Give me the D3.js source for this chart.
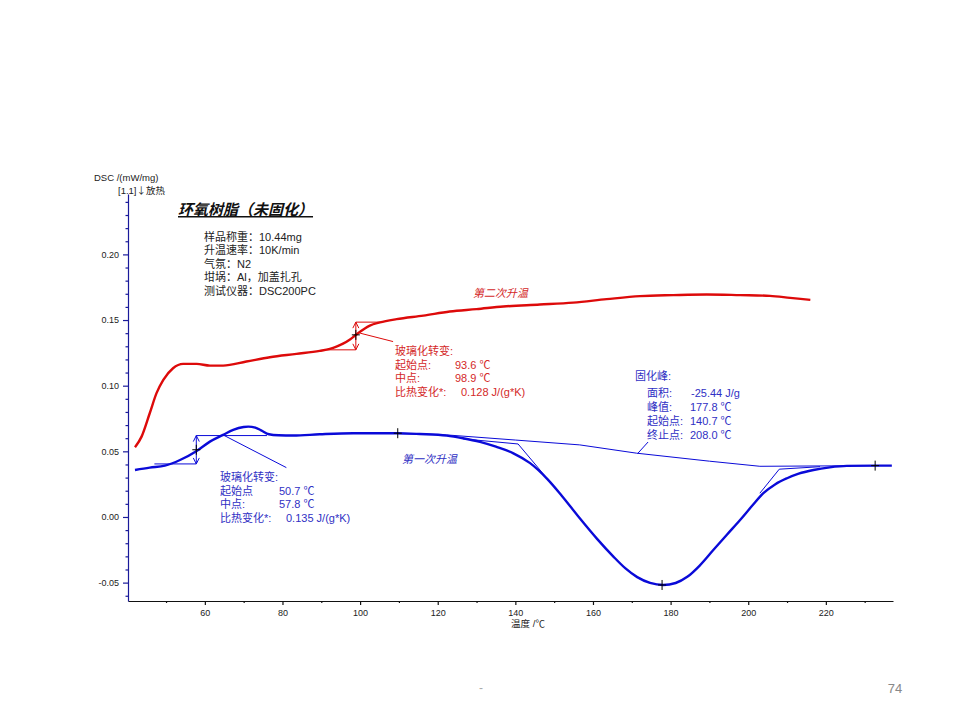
<!DOCTYPE html>
<html><head><meta charset="utf-8">
<script src="https://cdn.jsdelivr.net/npm/d3@7"></script>
<style>
body{margin:0;background:#fff}
svg{display:block}
text{font-family:"Liberation Sans","Noto Sans CJK SC",sans-serif}
</style>
</head><body>
<svg id="c" width="960" height="720"></svg>
<script>
// ---------------- data ----------------
const tempRed = [42.0,43.7,45.8,47.55,49.3,51.8,54.4,57.9,61.3,64.7,70.7,76.75,83.6,89.6,92.2,93.9,95.6,97.4,99.1,102.5,105.1,109.4,116.3,123.1,130,136.9,146.3,154.9,163.5,172.1,180.7,189.3,197.9,205.6,210.8,216];
const dscRed  = [0.0531,0.0612,0.079,0.0943,0.1044,0.1133,0.1166,0.1166,0.1153,0.1153,0.1184,0.1217,0.1242,0.1265,0.1280,0.1297,0.1320,0.1352,0.1392,0.1458,0.1482,0.1507,0.1534,0.1565,0.1583,0.1603,0.1618,0.1633,0.1659,0.1682,0.1690,0.1695,0.1690,0.1684,0.1669,0.1654];

const tempBlue = [42.0,45.8,49.7,53.6,57.9,61.3,64.7,67.3,70.0,71.2,73.0,74.5,76.5,79,82.8,89.6,98.2,109.4,115.4,122.3,126.5,130.9,135,139.5,143.8,148.2,152,156.6,161,165.2,168.3,171.4,174.7,178.1,181.3,184.3,187.5,191,194.5,197.9,201,203.9,207,210,213,216.8,221,225.4,232.7,237];
const dscBlue  = [0.0358,0.0376,0.0391,0.0434,0.0503,0.0574,0.0625,0.0663,0.0685,0.0688,0.0680,0.0660,0.0630,0.0622,0.0620,0.0630,0.0638,0.0638,0.0632,0.0620,0.0600,0.0572,0.0535,0.0485,0.0410,0.0290,0.0160,-0.0010,-0.0165,-0.0300,-0.0390,-0.0458,-0.0502,-0.0518,-0.0503,-0.0456,-0.0370,-0.0252,-0.0135,-0.0023,0.0085,0.0181,0.0250,0.0295,0.0330,0.0358,0.0378,0.0389,0.0391,0.0391];

const xTicks = [60,80,100,120,140,160,180,200,220];
const xTickLabels = ["60","80","100","120","140","160","180","200","220"];
const xMinor = [50,70,90,110,130,150,170,190,210,230];
const yTicks = [-0.05,0,0.05,0.10,0.15,0.20];
const yTickLabels = ["-0.05","0.00","0.05","0.10","0.15","0.20"];
const yMinor = [-0.06,-0.04,-0.03,-0.02,-0.01,0.01,0.02,0.03,0.04,0.06,0.07,0.08,0.09,0.11,0.12,0.13,0.14,0.16,0.17,0.18,0.19,0.21,0.22,0.23,0.24];

// analysis constructions (temperature, DSC)
const redGlassLow  = [[90.9,0.1273],[98.9,0.1273]];
const redGlassHigh = [[98.9,0.1484],[105.1,0.1484]];
const redGlassMid  = [98.9,0.1387];
const redLeader    = [[100,0.1400],[108.5,0.1336]];

const blueGlassLow  = [[47,0.0404],[57.8,0.0404]];
const blueGlassHigh = [[57.8,0.0620],[76,0.0620]];
const blueGlassMid  = [57.8,0.0512];
const blueLeader    = [[64.7,0.0625],[81,0.0376]];

const peakBaseline = [[109.7,0.0638],[122.3,0.0625],[140,0.0586],[156.6,0.0549],[171.2,0.0486],[190,0.0425],[203,0.0386],[232.7,0.0391]];
const peakOnset    = [[126.5,0.0595],[140.7,0.0556],[153,0.0125]];
const peakEnd      = [[203.0,0.0181],[208.0,0.0364],[218.5,0.0383]];
const peakLeader   = [[171.5,0.0483],[174.2,0.0571]];
const peakMarks    = [[109.7,0.0638],[177.8,-0.0518],[232.7,0.0391]];

// texts
const infoLines = ["样品称重：10.44mg","升温速率：10K/min","气氛：N2","坩埚：Al，加盖扎孔","测试仪器：DSC200PC"];
const redLabels = ["起始点:","中点:","比热变化*:"];
const redValues = ["93.6 ℃","98.9 ℃","0.128 J/(g*K)"];
const blueLabels = ["起始点","中点:","比热变化*:"];
const blueValues = ["50.7 ℃","57.8 ℃","0.135 J/(g*K)"];
const peakLabels = ["面积:","峰值:","起始点:","终止点:"];
const peakValues = ["-25.44 J/g","177.8 ℃","140.7 ℃","208.0 ℃"];

// ---------------- drawing ----------------
const svg = d3.select("#c");
const x = d3.scaleLinear().domain([40.2, 237.3]).range([128, 893]);
const y = d3.scaleLinear().domain([-0.064, 0.246]).range([601, 194]);

const RED = "#dd0a0a", BLUE = "#0a0ad8", REDT = "#d42828", BLUET = "#3030c4";

// axes
const gx = svg.append("g").attr("transform","translate(0,601)");
gx.call(d3.axisBottom(x).tickValues(xTicks).tickSize(4).tickSizeOuter(0).tickFormat((d,i)=>xTickLabels[i]));
const gxm = svg.append("g").attr("transform","translate(0,601)");
gxm.call(d3.axisBottom(x).tickValues(xMinor).tickSize(2).tickSizeOuter(0).tickFormat(""));
gxm.select(".domain").remove();
[gx,gxm].forEach(g=>{g.selectAll("path,line").attr("stroke","#111").attr("stroke-width",1.2);});
gx.selectAll("text").attr("font-size",9).attr("fill","#222").attr("dy","0.9em");

const gy = svg.append("g").attr("transform","translate(128,0)");
gy.call(d3.axisLeft(y).tickValues(yTicks).tickSize(5).tickSizeOuter(0).tickFormat((d,i)=>yTickLabels[i]));
const gym = svg.append("g").attr("transform","translate(128,0)");
gym.call(d3.axisLeft(y).tickValues(yMinor).tickSize(2.5).tickSizeOuter(0).tickFormat(""));
gym.select(".domain").remove();
[gy,gym].forEach(g=>{g.selectAll("path,line").attr("stroke","#1a1a9a").attr("stroke-width",1.2);});
gy.selectAll("text").attr("font-size",9).attr("fill","#222").attr("x",-9);
gx.select(".domain").attr("stroke","#111");

// axis titles
svg.append("text").attr("x",94).attr("y",181).attr("font-size",9.5).attr("fill","#222").text("DSC /(mW/mg)");
const t2 = svg.append("text").attr("x",118).attr("y",194).attr("font-size",9.5).attr("fill","#222");
t2.append("tspan").text("[1.1]");
t2.append("tspan").attr("font-family","Noto Sans CJK SC").text("↓放热");
svg.append("text").attr("x",528).attr("y",627).attr("text-anchor","middle").attr("font-size",9.5).attr("fill","#222").text("温度 /℃");

// lines
const line = d3.line().x(d=>x(d[0])).y(d=>y(d[1]));
const curve = d3.line().x(d=>x(d[0])).y(d=>y(d[1])).curve(d3.curveMonotoneX);

// thin construction lines
function thin(data,color){svg.append("path").attr("d",line(data)).attr("fill","none").attr("stroke",color).attr("stroke-width",1);}
thin(redGlassLow,RED); thin(redGlassHigh,RED); thin(redLeader,RED);
thin(blueGlassLow,BLUE); thin(blueGlassHigh,BLUE); thin(blueLeader,BLUE);
thin(peakBaseline,BLUE); thin(peakOnset,BLUE); thin(peakEnd,BLUE); thin(peakLeader,BLUE);

// curves
svg.append("path").attr("d",curve(tempRed.map((t,i)=>[t,dscRed[i]]))).attr("fill","none").attr("stroke",RED).attr("stroke-width",2.4);
svg.append("path").attr("d",curve(tempBlue.map((t,i)=>[t,dscBlue[i]]))).attr("fill","none").attr("stroke",BLUE).attr("stroke-width",2.4);

// double arrows
function dArrow(t,v1,v2,color){
  const xx=x(t), ya=y(v1), yb=y(v2);
  const top=Math.min(ya,yb), bot=Math.max(ya,yb);
  const p=d3.path();
  p.moveTo(xx,top); p.lineTo(xx,bot);
  p.moveTo(xx-3,top+6); p.lineTo(xx,top); p.lineTo(xx+3,top+6);
  p.moveTo(xx-3,bot-6); p.lineTo(xx,bot); p.lineTo(xx+3,bot-6);
  svg.append("path").attr("d",p.toString()).attr("fill","none").attr("stroke",color).attr("stroke-width",1);
}
dArrow(redGlassMid[0],redGlassLow[0][1],redGlassHigh[0][1],RED);
dArrow(blueGlassMid[0],blueGlassLow[0][1],blueGlassHigh[0][1],BLUE);

// crosses
function cross(t,v,h,w){
  const p=d3.path(); const cx=x(t), cy=y(v);
  p.moveTo(cx-w,cy); p.lineTo(cx+w,cy); p.moveTo(cx,cy-h); p.lineTo(cx,cy+h);
  svg.append("path").attr("d",p.toString()).attr("stroke","#000").attr("stroke-width",1).attr("fill","none");
}
cross(redGlassMid[0],redGlassMid[1],5,4);
cross(blueGlassMid[0],blueGlassMid[1],5,4);
peakMarks.forEach(d=>cross(d[0],d[1],5,4));

// title & info
svg.append("text").attr("x",178).attr("y",215).attr("font-size",15).attr("font-weight","bold").attr("font-style","italic")
  .attr("text-decoration","underline").attr("fill","#111").text("环氧树脂（未固化）");
infoLines.forEach((s,i)=>{
  svg.append("text").attr("x",204).attr("y",241+i*13.4).attr("font-size",11).attr("fill","#222").text(s);
});

// curve labels
svg.append("text").attr("x",473).attr("y",297).attr("font-size",11).attr("font-style","italic").attr("fill",REDT).text("第二次升温");
svg.append("text").attr("x",402).attr("y",463).attr("font-size",11).attr("font-style","italic").attr("fill",BLUET).text("第一次升温");

// red glass annotation
svg.append("text").attr("x",395).attr("y",355).attr("font-size",11).attr("fill",REDT).text("玻璃化转变:");
redLabels.forEach((s,i)=>{
  svg.append("text").attr("x",395).attr("y",368.5+i*13.5).attr("font-size",11).attr("fill",REDT).text(s);
  svg.append("text").attr("x",i===2?461:455).attr("y",368.5+i*13.5).attr("font-size",11).attr("fill",REDT).text(redValues[i]);
});

// blue glass annotation
svg.append("text").attr("x",220).attr("y",481).attr("font-size",11).attr("fill",BLUET).text("玻璃化转变:");
blueLabels.forEach((s,i)=>{
  svg.append("text").attr("x",220).attr("y",494.5+i*13.5).attr("font-size",11).attr("fill",BLUET).text(s);
  svg.append("text").attr("x",i===2?286:279).attr("y",494.5+i*13.5).attr("font-size",11).attr("fill",BLUET).text(blueValues[i]);
});

// curing peak annotation
svg.append("text").attr("x",635).attr("y",380).attr("font-size",11).attr("fill",BLUET).text("固化峰:");
peakLabels.forEach((s,i)=>{
  svg.append("text").attr("x",647).attr("y",397+i*14).attr("font-size",11).attr("fill",BLUET).text(s);
  svg.append("text").attr("x",i===0?691:690).attr("y",397+i*14).attr("font-size",11).attr("fill",BLUET).text(peakValues[i]);
});

// page footer
svg.append("text").attr("x",481).attr("y",692).attr("text-anchor","middle").attr("font-size",12).attr("fill","#aaa").text("-");
svg.append("text").attr("x",895).attr("y",693).attr("text-anchor","middle").attr("font-size",13).attr("fill","#888").text("74");
</script>
</body></html>
